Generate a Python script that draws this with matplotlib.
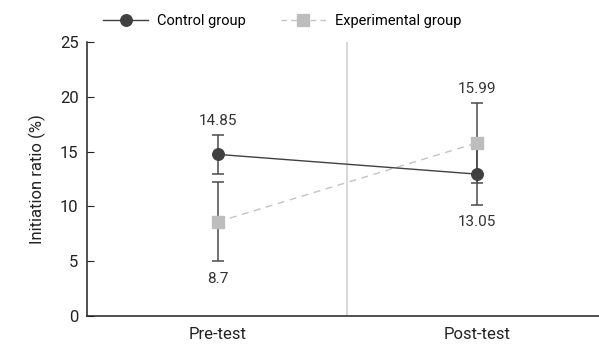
import matplotlib
matplotlib.use('agg')
import matplotlib.pyplot as plt
from matplotlib.lines import Line2D

plt.rcParams['font.family'] = ['Roboto', 'DejaVu Sans']

# data
phases = ['Pre-test', 'Post-test']
control_mean = [14.75, 12.95]
control_sd = [1.75, 2.85]
exp_mean = [8.6, 15.8]
exp_sd = [3.6, 3.66]
control_labels = ['14.85', '13.05']
exp_labels = ['8.7', '15.99']

x = list(range(len(phases)))

dark = '#404040'
light = '#bdbdc0'
bar_c = '#4a4a4a'

fig = plt.figure(figsize=(5.99, 3.48), dpi=100)
ax = fig.add_axes([0.145, 0.092, 0.855, 0.787])

ax.axvline(0.5, color='#d4d4d4', lw=1.3, zorder=0)

# lines
ax.plot(x, exp_mean, color='#c4c4c6', ls=(0, (5, 4)), lw=1, zorder=1)
ax.plot(x, control_mean, color=dark, ls='-', lw=1, zorder=1)
# error bars
ax.errorbar(x, exp_mean, yerr=exp_sd, fmt='none', ecolor=bar_c, elinewidth=1.1,
            capsize=4.5, capthick=1.1, zorder=2)
ax.errorbar(x, control_mean, yerr=control_sd, fmt='none', ecolor=bar_c, elinewidth=1.1,
            capsize=4.5, capthick=1.1, zorder=2)
# markers on top
ax.plot(x, exp_mean, ls='none', marker='s', ms=8.6, mfc=light, mec=light, zorder=4)
ax.plot(x, control_mean, ls='none', marker='o', ms=8.3, mfc=dark, mec=dark, zorder=4)

# value labels: control pre above, post below; experimental pre below, post above
kw = dict(textcoords='offset points', ha='center', fontsize=11, color='#333333')
ax.annotate(control_labels[0], (x[0], control_mean[0] + control_sd[0]), xytext=(0, 5), va='bottom', **kw)
ax.annotate(control_labels[1], (x[1], control_mean[1] - control_sd[1]), xytext=(0, -7), va='top', **kw)
ax.annotate(exp_labels[0], (x[0], exp_mean[0] - exp_sd[0]), xytext=(0, -8), va='top', **kw)
ax.annotate(exp_labels[1], (x[1], exp_mean[1] + exp_sd[1]), xytext=(0, 5), va='bottom', **kw)

ax.set_xlim(-0.506, 1.471)
ax.set_ylim(0, 25)
ax.set_yticks([0, 5, 10, 15, 20, 25])
ax.set_xticks(x)
ax.set_xticklabels(phases)
ax.tick_params(axis='y', direction='in', length=5, labelsize=12, colors='#222222', pad=6)
ax.tick_params(axis='x', length=0, labelsize=12, colors='#222222', pad=8)
ax.set_ylabel('Initiation ratio (%)', fontsize=12, color='#222222', labelpad=10)
for s in ['top', 'right']:
    ax.spines[s].set_visible(False)
for s in ['left', 'bottom']:
    ax.spines[s].set_color('#222222')
    ax.spines[s].set_linewidth(1.1)

handles = [
    Line2D([], [], color=dark, lw=1, marker='o', ms=8.3, mfc=dark, mec=dark),
    Line2D([], [], color='#c4c4c6', lw=1, ls=(0, (4, 3)), marker='s', ms=8.6, mfc=light, mec=light),
]
fig.legend(handles, ['Control group', 'Experimental group'], loc='center left',
           bbox_to_anchor=(0.172, 0.94), ncol=2, frameon=False, fontsize=10.5,
           handlelength=3.1, columnspacing=2.4, handletextpad=0.6,
           borderpad=0, borderaxespad=0)

fig.savefig('out.png', dpi=100)
